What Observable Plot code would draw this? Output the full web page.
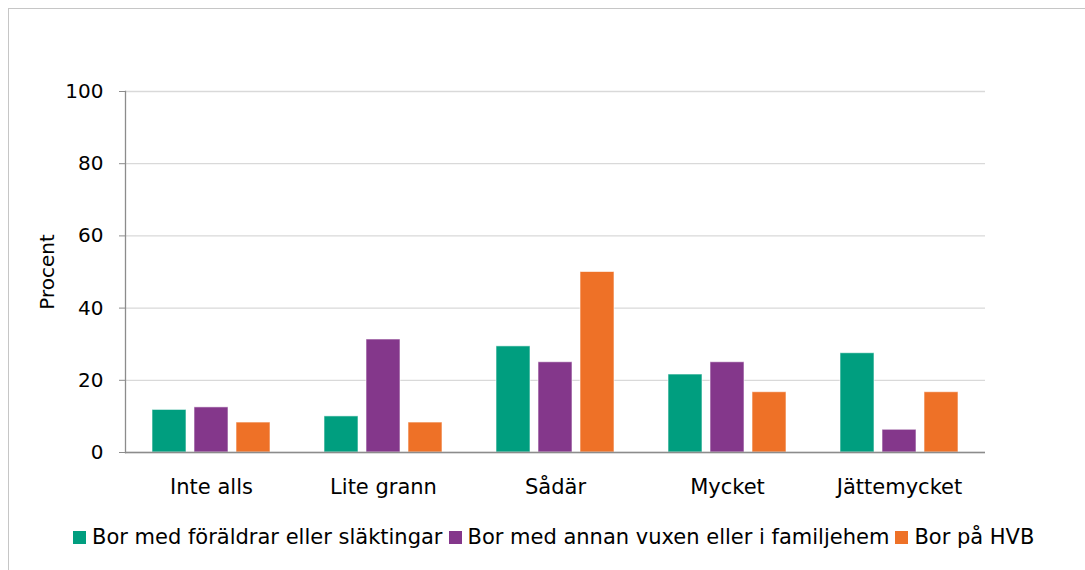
<!DOCTYPE html>
<html>
<head>
<meta charset="utf-8">
<script src="https://cdn.jsdelivr.net/npm/d3@7"></script>
<script src="https://cdn.jsdelivr.net/npm/@observablehq/plot@0.6"></script>
<style>
  body { margin: 0; background: #fff; font-family: "DejaVu Sans", sans-serif; }
  #border { position: absolute; left: 8px; top: 8px; width: 1200px; height: 700px; border: 1px solid #c6c6c6; }
  #chart { position: absolute; left: 0; top: 0; }
  #legend { position: absolute; left: 73px; top: 525px; display: flex; align-items: center; font-size: 21px; color: #000; white-space: nowrap; }
  .item { display: flex; align-items: center; margin-right: 6px; }
  .sw { width: 13px; height: 13px; margin-right: 6px; }
</style>
</head>
<body>
<div id="border"></div>
<div id="chart"></div>
<div id="legend"></div>
<script>
const categories = ["Inte alls", "Lite grann", "Sådär", "Mycket", "Jättemycket"];
const series = [
  "Bor med föräldrar eller släktingar",
  "Bor med annan vuxen eller i familjehem",
  "Bor på HVB"
];
const foraldrar = [11.8, 10.0, 29.4, 21.6, 27.5];
const annanVuxen = [12.5, 31.3, 25.0, 25.0, 6.3];
const hvb = [8.3, 8.3, 50.0, 16.7, 16.7];
const colors = ["#009E7F", "#84378B", "#EE7127"];
const yTicks = [0, 20, 40, 60, 80, 100];

const valuesBySeries = [foraldrar, annanVuxen, hvb];
const table = [];
categories.forEach((c, i) => {
  series.forEach((s, j) => {
    table.push({cat: c, series: s, value: valuesBySeries[j][i]});
  });
});

const chart = Plot.plot({
  width: 1085,
  height: 510,
  marginLeft: 123,
  marginRight: 99,
  marginTop: 91,
  marginBottom: 58,
  style: {fontFamily: "DejaVu Sans", fontSize: "20px", color: "#000", background: "transparent"},
  fx: {domain: categories, padding: 0, label: null},
  x: {domain: series, paddingInner: 0.19, paddingOuter: 0.61, axis: null},
  y: {domain: [0, 100], label: "Procent"},
  color: {domain: series, range: colors},
  marks: [
    Plot.gridY(yTicks, {stroke: "#d9d9d9", strokeOpacity: 1, strokeWidth: 1.3}),
    Plot.barY(table, {fx: "cat", x: "series", y: "value", fill: "series", stroke: "#fff", strokeOpacity: 0.6, strokeWidth: 1}),
    Plot.ruleY([0], {stroke: "#8c8c8c", strokeWidth: 1.5}),
    Plot.axisY(yTicks, {tickSize: 6, tickPadding: 16, stroke: "#8c8c8c", fill: "#000", label: "Procent", labelArrow: "none", labelAnchor: "center", labelOffset: 86, fontSize: 20}),
    Plot.frame({anchor: "left", fx: "Inte alls", stroke: "#8c8c8c", strokeWidth: 1.3}),
    Plot.axisFx({anchor: "bottom", tickSize: 0, tickPadding: 27, fontSize: 21, label: null, fill: "#000"})
  ]
});
document.getElementById("chart").appendChild(chart);

const legend = document.getElementById("legend");
series.forEach((s, j) => {
  const item = document.createElement("div");
  item.className = "item";
  const sw = document.createElement("div");
  sw.className = "sw";
  sw.style.background = colors[j];
  const t = document.createElement("span");
  t.textContent = s;
  item.appendChild(sw);
  item.appendChild(t);
  legend.appendChild(item);
});
</script>
</body>
</html>
